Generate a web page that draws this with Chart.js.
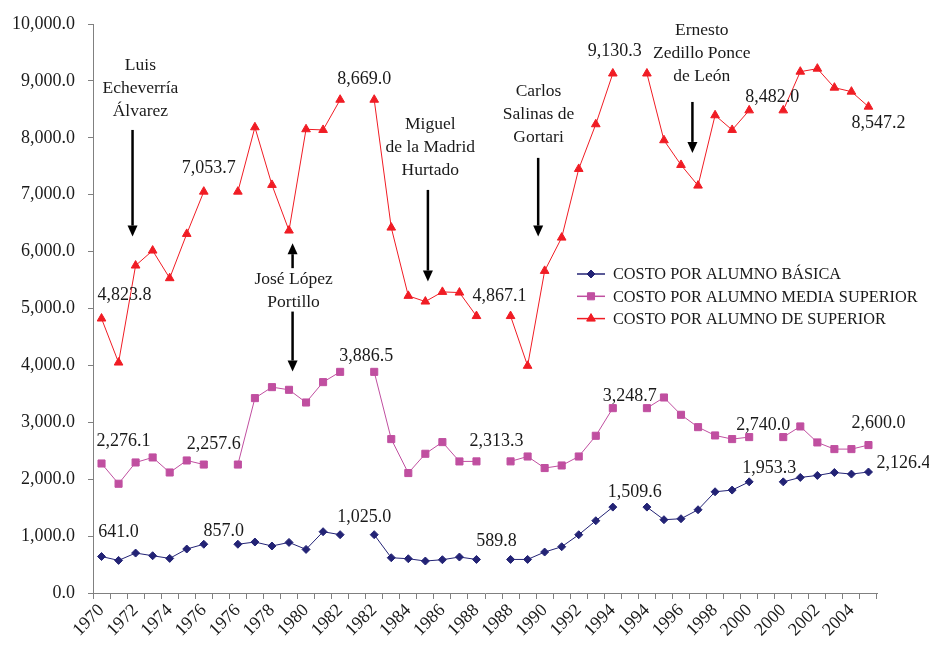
<!DOCTYPE html>
<html>
<head>
<meta charset="utf-8">
<script src="https://cdn.jsdelivr.net/npm/chart.js@4"></script>
<style>
  html, body { margin: 0; padding: 0; background: #fff; }
  #wrap { width: 929px; height: 646px; }
</style>
</head>
<body>
<div id="wrap"><canvas id="costChart" width="929" height="646"></canvas></div>
<script>
'use strict'
{
  // each presidential term is its own run of years, with an empty slot between terms
  const years = [
    '1970', '1971', '1972', '1973', '1974', '1975', '1976', '',
    '1976', '1977', '1978', '1979', '1980', '1981', '1982', '',
    '1982', '1983', '1984', '1985', '1986', '1987', '1988', '',
    '1988', '1989', '1990', '1991', '1992', '1993', '1994', '',
    '1994', '1995', '1996', '1997', '1998', '1999', '2000', '',
    '2000', '2001', '2002', '2003', '2004', '2005',
  ];

  const basica = [
    641.0, 573, 702, 655, 608, 773, 857.0, null,
    857.0, 896, 826, 889, 766, 1077, 1025.0, null,
    1025.0, 620, 602, 562, 585, 632, 589.8, null,
    589.8, 590, 720, 813, 1024, 1270, 1509.6, null,
    1509.6, 1288, 1305, 1463, 1779, 1809, 1953.3, null,
    1953.3, 2031, 2066, 2118, 2090, 2126.4,
  ];

  const mediaSuperior = [
    2276.1, 1920, 2294, 2382, 2118, 2329, 2257.6, null,
    2257.6, 3425, 3618, 3571, 3348, 3706, 3886.5, null,
    3886.5, 2705, 2108, 2447, 2652, 2312, 2313.3, null,
    2313.3, 2399, 2196, 2241, 2399, 2763, 3248.7, null,
    3248.7, 3436, 3132, 2915, 2769, 2705, 2740.0, null,
    2740.0, 2927, 2646, 2529, 2529, 2600.0,
  ];

  const superior = [
    4823.8, 4050, 5755, 6018, 5533, 6311, 7053.7, null,
    7053.7, 8185, 7172, 6370, 8150, 8138, 8669.0, null,
    8669.0, 6422, 5222, 5122, 5292, 5280, 4867.1, null,
    4867.1, 3993, 5661, 6246, 7453, 8238, 9130.3, null,
    9130.3, 7957, 7523, 7160, 8396, 8138, 8482.0, null,
    8482.0, 9162, 9215, 8881, 8811, 8547.2,
  ];

  const seriesNames = [
    'COSTO POR ALUMNO BÁSICA',
    'COSTO POR ALUMNO MEDIA SUPERIOR',
    'COSTO POR ALUMNO DE SUPERIOR',
  ];

  // which points carry a value label, with a small nudge in px
  const labelSpots = [
    [[0, 17, -24], [6, 20, -13], [16, -10, -17], [24, -14, -18], [30, 22, -15], [40, -14, -14], [45, 35, -9]],
    [[0, 22, -22], [6, 10, -20], [16, -8, -16], [24, -14, -20], [30, 17, -12], [40, -20, -12], [45, 10, -22]],
    [[0, 23, -23], [6, 5, -23], [16, -10, -20], [24, -11, -20], [30, 2, -22], [40, -11, -13], [45, 10, 17]],
  ];

  // president notes: x as category index, y as value on the axis
  const presidents = [
    { lines: ['Luis', 'Echeverría', 'Álvarez'], at: 2.28, top: 9280, arrows: [[1.82, 8138, 6264]] },
    { lines: ['José López', 'Portillo'], at: 11.27, top: 5516, arrows: [[11.21, 5709, 6148], [11.21, 4946, 3892]] },
    { lines: ['Miguel', 'de la Madrid', 'Hurtado'], at: 19.29, top: 8244, arrows: [[19.15, 7084, 5473]] },
    { lines: ['Carlos', 'Salinas de', 'Gortari'], at: 25.64, top: 8823, arrows: [[25.62, 7647, 6264]] },
    { lines: ['Ernesto', 'Zedillo Ponce', 'de León'], at: 35.22, top: 9895, arrows: [[34.67, 8630, 7734]] },
  ];

  const serif = 'Liberation Serif';
  const textColor = '#1a1a1a';
  const axisColor = '#808080';
  const colors = ['#232375', '#c04fa0', '#f01c24'];
  const styles = ['rectRot', 'rect', 'triangle'];
  const radii = [4, 5, 5];

  const fmt = (v) => v.toLocaleString('en-US', { minimumFractionDigits: 1, maximumFractionDigits: 1 });

  const datasets = [basica, mediaSuperior, superior].map((values, i) => ({
    label: seriesNames[i],
    data: values,
    borderColor: colors[i],
    backgroundColor: colors[i],
    borderWidth: 1,
    pointStyle: styles[i],
    pointRadius: radii[i],
    pointBorderWidth: 1,
    pointBackgroundColor: colors[i],
    pointBorderColor: colors[i],
    spanGaps: false,
    tension: 0,
  }));

  const drawArrow = (ctx, x, y1, y2) => {
    const dir = y2 > y1 ? 1 : -1;
    const head = 11;
    ctx.beginPath();
    ctx.moveTo(x, y1);
    ctx.lineTo(x, y2 - dir * head);
    ctx.lineWidth = 2.5;
    ctx.strokeStyle = '#000';
    ctx.stroke();
    ctx.beginPath();
    ctx.moveTo(x, y2);
    ctx.lineTo(x - 5, y2 - dir * head);
    ctx.lineTo(x + 5, y2 - dir * head);
    ctx.closePath();
    ctx.fillStyle = '#000';
    ctx.fill();
  };

  const extras = {
    id: 'extras',
    afterDatasetsDraw(chart) {
      const ctx = chart.ctx;
      const xs = chart.scales.x;
      const ys = chart.scales.y;
      ctx.save();

      // value labels
      ctx.font = `18px "${serif}"`;
      ctx.fillStyle = textColor;
      ctx.textAlign = 'center';
      ctx.textBaseline = 'middle';
      labelSpots.forEach((spots, d) => {
        const meta = chart.getDatasetMeta(d);
        spots.forEach(([i, dx, dy]) => {
          const pt = meta.data[i];
          ctx.fillText(fmt(chart.data.datasets[d].data[i]), pt.x + dx, pt.y + dy);
        });
      });

      // president notes
      ctx.font = `17.5px "${serif}"`;
      presidents.forEach((p) => {
        const x = xs.getPixelForValue(p.at);
        const y0 = ys.getPixelForValue(p.top);
        p.lines.forEach((line, k) => {
          ctx.fillStyle = textColor;
          ctx.fillText(line, x, y0 + k * 23);
        });
        p.arrows.forEach(([at, from, to]) => {
          drawArrow(ctx, xs.getPixelForValue(at), ys.getPixelForValue(from), ys.getPixelForValue(to));
        });
      });

      // legend
      const lx = chart.chartArea.right - 300;
      const ly = 274;
      ctx.textAlign = 'left';
      ctx.font = `16.3px "${serif}"`;
      chart.data.datasets.forEach((ds, i) => {
        const y = ly + i * 22.3;
        ctx.beginPath();
        ctx.moveTo(lx, y);
        ctx.lineTo(lx + 28, y);
        ctx.lineWidth = 1.5;
        ctx.strokeStyle = ds.borderColor;
        ctx.stroke();
        ctx.fillStyle = ds.backgroundColor;
        ctx.strokeStyle = ds.borderColor;
        ctx.lineWidth = 1;
        Chart.helpers.drawPoint(ctx, { pointStyle: ds.pointStyle, radius: ds.pointRadius, rotation: 0, borderWidth: 1 }, lx + 14, y);
        ctx.fillStyle = textColor;
        ctx.fillText(ds.label, lx + 36, y + 1);
      });

      ctx.restore();
    },
  };

  const ctx = document.getElementById('costChart').getContext('2d');

  new Chart(ctx, {
    type: 'line',
    data: { labels: years, datasets: datasets },
    options: {
      responsive: false,
      animation: false,
      layout: { padding: { top: 24, right: 52, left: 0, bottom: 0 } },
      plugins: {
        legend: { display: false },
        tooltip: { enabled: false },
      },
      scales: {
        x: {
          offset: true,
          afterFit: (s) => { s.height = 53; },
          grid: { offset: true, drawOnChartArea: false, tickLength: 6, color: axisColor },
          border: { color: axisColor, width: 1 },
          ticks: {
            autoSkip: false,
            minRotation: 45,
            maxRotation: 45,
            padding: 1,
            color: textColor,
            font: { family: serif, size: 18 },
            callback: function (val, i) { return i % 2 === 0 ? this.getLabelForValue(val) : ''; },
          },
        },
        y: {
          min: 0,
          max: 10000,
          afterFit: (s) => { s.width = 93; },
          grid: { drawOnChartArea: false, tickLength: 5, color: axisColor },
          border: { color: axisColor, width: 1 },
          ticks: {
            stepSize: 1000,
            padding: 13,
            color: textColor,
            font: { family: serif, size: 18 },
            callback: (v) => fmt(v),
          },
        },
      },
    },
    plugins: [extras],
  });
}
</script>
</body>
</html>
